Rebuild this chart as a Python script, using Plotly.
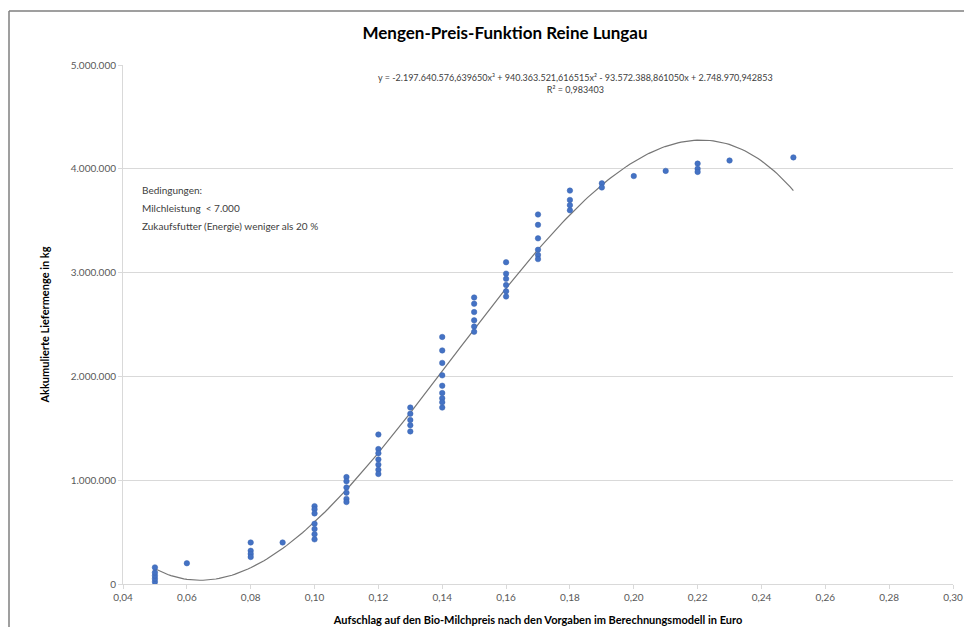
import numpy as np
import plotly.graph_objects as go

# Aufschlag (Euro) und akkumulierte Liefermenge (kg)
aufschlag = (
    [0.05] * 5 + [0.06] + [0.08] * 4 + [0.09] + [0.10] * 7 + [0.11] * 6
    + [0.12] * 7 + [0.13] * 5 + [0.14] * 9 + [0.15] * 6 + [0.16] * 6
    + [0.17] * 6 + [0.18] * 4 + [0.19] * 2 + [0.20] + [0.21] + [0.22] * 3
    + [0.23] + [0.25]
)
liefermenge = [
    20000, 50000, 80000, 110000, 160000,
    200000,
    400000, 320000, 290000, 260000,
    400000,
    750000, 720000, 680000, 580000, 530000, 480000, 430000,
    1030000, 990000, 930000, 880000, 820000, 790000,
    1440000, 1300000, 1260000, 1200000, 1150000, 1100000, 1060000,
    1700000, 1640000, 1580000, 1530000, 1470000,
    2380000, 2250000, 2130000, 2010000, 1910000, 1840000, 1790000, 1750000, 1700000,
    2760000, 2700000, 2620000, 2540000, 2480000, 2430000,
    3100000, 2990000, 2940000, 2880000, 2820000, 2770000,
    3560000, 3460000, 3330000, 3220000, 3170000, 3130000,
    3790000, 3700000, 3650000, 3600000,
    3860000, 3820000,
    3930000,
    3980000,
    4050000, 4000000, 3970000,
    4080000,
    4110000,
]

x_ticks = [0.04, 0.06, 0.08, 0.10, 0.12, 0.14, 0.16, 0.18, 0.20, 0.22, 0.24, 0.26, 0.28, 0.30]
y_ticks = [0, 1000000, 2000000, 3000000, 4000000, 5000000]

# Polynomische Trendlinie (3. Grades) laut Diagramm
trend_coef = [-2197640576.639650, 940363521.616515, -93572388.861050, 2748970.942853]
trend_x = np.linspace(0.05, 0.25, 200)
trend_y = np.polyval(trend_coef, trend_x)

bedingungen = ['Bedingungen:', 'Milchleistung  &lt; 7.000',
               'Zukaufsfutter (Energie) weniger als 20 %']

fig = go.Figure()

fig.add_trace(go.Scatter(
    x=trend_x, y=trend_y, mode='lines',
    line=dict(color='#767676', width=1.2),
    hoverinfo='skip', showlegend=False
))

fig.add_trace(go.Scatter(
    x=aufschlag, y=liefermenge, mode='markers',
    marker=dict(symbol='circle', size=5.5, color='#4472c4',
                line=dict(width=0.5, color='#3a64b0')),
    showlegend=False
))

font = 'Lato, Open Sans, sans-serif'

W, H = 957, 620
L, R, T, B = 115, 12, 57, 44
PW, PH = W - L - R, H - T - B

# die Seite hat 8px Rand; etwas kleiner, damit nichts überläuft
fig.update_layout(
    width=W, height=H,
    margin=dict(l=L, r=R, t=T, b=B),
    paper_bgcolor='white', plot_bgcolor='white',
    separators=',.',
    font=dict(family=font, size=10, color='#595959'),
    title=dict(text='<b>Mengen-Preis-Funktion Reine Lungau</b>',
               x=497 / W, xanchor='center', y=1 - 25 / H, yanchor='middle',
               font=dict(size=17, color='#000000', family=font)),
    xaxis=dict(
        range=[0.04, 0.30], tickvals=x_ticks, tickformat='.2f',
        showgrid=False, zeroline=False, automargin=False,
        showline=True, linecolor='#d9d9d9', linewidth=1,
        ticks='outside', ticklen=4, tickcolor='#d9d9d9',
        tickfont=dict(size=10, color='#595959'),
        title=dict(text='<b>Aufschlag auf den Bio-Milchpreis nach den Vorgaben im Berechnungsmodell in Euro</b>',
                   font=dict(size=11, color='#000000'), standoff=14),
    ),
    yaxis=dict(
        range=[0, 5000000], tickvals=y_ticks, tickformat=',.0f',
        showgrid=True, gridcolor='#d9d9d9', gridwidth=1, zeroline=False,
        automargin=False,
        showline=True, linecolor='#d9d9d9', linewidth=1,
        ticks='outside', ticklen=4, tickcolor='#d9d9d9',
        tickfont=dict(size=10, color='#595959'),
        title=dict(text='<b>Akkumulierte Liefermenge in kg</b>',
                   font=dict(size=11, color='#000000'), standoff=18),
    ),
)

fig.add_annotation(
    xref='paper', yref='paper', x=(567 - L) / PW, y=0.99, xanchor='center', yanchor='top',
    text='y = -2.197.640.576,639650x³ + 940.363.521,616515x² - 93.572.388,861050x + 2.748.970,942853<br>R² = 0,983403',
    showarrow=False, align='center', font=dict(size=9, color='#404040')
)

for i, zeile in enumerate(bedingungen):
    fig.add_annotation(
        xref='paper', yref='paper', x=(132 - L) / PW, y=1 - (182 + 18 * i - T) / PH,
        xanchor='left', yanchor='middle', text=zeile,
        showarrow=False, align='left', font=dict(size=10, color='#404040')
    )

# Rahmen des Diagrammbereichs (oben und links sichtbar)
rx = (1 - L) / PW
ry = 1 + (T - 3) / PH
fig.add_shape(type='line', xref='paper', yref='paper',
              x0=rx, x1=1 + (R - 1) / PW, y0=ry, y1=ry,
              line=dict(color='#7f7f7f', width=1.5))
fig.add_shape(type='line', xref='paper', yref='paper',
              x0=rx, x1=rx, y0=-(B - 1) / PH, y1=ry,
              line=dict(color='#7f7f7f', width=1.5))

fig.write_html("out.html")
